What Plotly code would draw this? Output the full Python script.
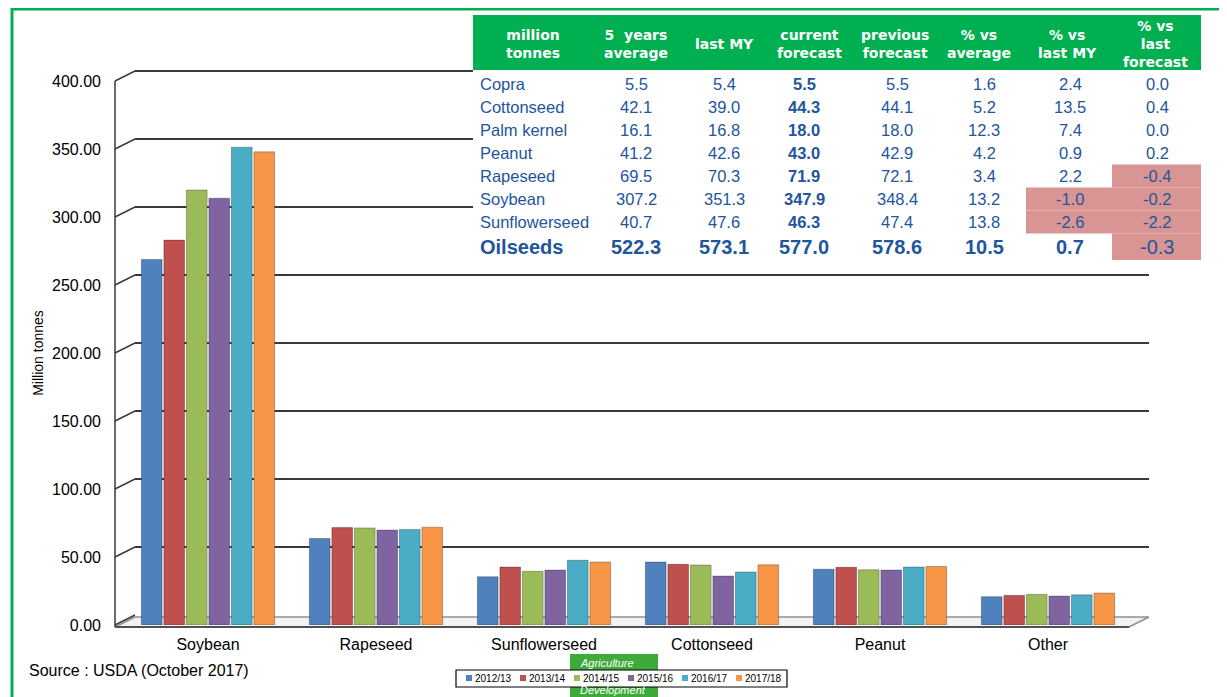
import plotly.graph_objects as go

# ---------------- data ----------------
categories = ["Soybean", "Rapeseed", "Sunflowerseed", "Cottonseed", "Peanut", "Other"]
series_names = ["2012/13", "2013/14", "2014/15", "2015/16", "2016/17", "2017/18"]
series_colors = ["#4F81BD", "#C0504D", "#9BBB59", "#8064A2", "#4BACC6", "#F79646"]
v_2012 = [268.8, 63.6, 35.5, 46.3, 41.0, 20.8]
v_2013 = [283.0, 71.6, 42.6, 44.6, 42.4, 21.8]
v_2014 = [319.8, 71.4, 39.5, 44.1, 40.6, 22.5]
v_2015 = [313.8, 69.8, 40.4, 36.0, 40.4, 21.3]
v_2016 = [351.3, 70.3, 47.6, 39.0, 42.6, 22.2]
v_2017 = [347.9, 71.9, 46.3, 44.3, 43.0, 23.5]
series_values = [v_2012, v_2013, v_2014, v_2015, v_2016, v_2017]
y_ticks = [0, 50, 100, 150, 200, 250, 300, 350, 400]

tbl_headers = ["million<br>tonnes", "5  years<br>average", "last MY", "current<br>forecast",
               "previous<br>forecast", "% vs<br>average", "% vs<br>last MY", "% vs<br>last<br>forecast"]
tbl_rows = ["Copra", "Cottonseed", "Palm kernel", "Peanut", "Rapeseed", "Soybean", "Sunflowerseed", "Oilseeds"]
avg5 = [5.5, 42.1, 16.1, 41.2, 69.5, 307.2, 40.7, 522.3]
last_my = [5.4, 39.0, 16.8, 42.6, 70.3, 351.3, 47.6, 573.1]
cur_fc = [5.5, 44.3, 18.0, 43.0, 71.9, 347.9, 46.3, 577.0]
prev_fc = [5.5, 44.1, 18.0, 42.9, 72.1, 348.4, 47.4, 578.6]
pct_avg = [1.6, 5.2, 12.3, 4.2, 3.4, 13.2, 13.8, 10.5]
pct_my = [2.4, 13.5, 7.4, 0.9, 2.2, -1.0, -2.6, 0.7]
pct_fc = [0.0, 0.4, 0.0, 0.2, -0.4, -0.2, -2.2, -0.3]

# ---------------- layout geometry ----------------
# coordinates below are page pixels; the page body has an 8px margin
OFF = 8
W, H = 1227 - OFF, 697 - OFF
L, T, PW, PH = 124, 81, 1008, 544      # plot area in page pixels
YMAX = 400.0


def px(x):
    return (x - L) / PW


def py(y):
    return (T + PH - y) / PH


def ypix(v):
    return T + PH - v / YMAX * PH


FONT = "Liberation Sans, Arial, sans-serif"
BLUE = "#22559c"

fig = go.Figure()
for name, col, vals in zip(series_names, series_colors, series_values):
    fig.add_trace(go.Bar(
        x=categories, y=vals, name=name, showlegend=False,
        marker=dict(color=col, line=dict(color="rgba(0,0,0,0.35)", width=0.8)),
    ))

shapes = []
annos = []


def line(x0, y0, x1, y1, color="#404040", width=2):
    shapes.append(dict(type="line", xref="paper", yref="paper", x0=px(x0), y0=py(y0),
                       x1=px(x1), y1=py(y1), line=dict(color=color, width=width), layer="below"))


def rect(x0, y0, x1, y1, fill, lc=None, lw=0):
    shapes.append(dict(type="rect", xref="paper", yref="paper", x0=px(x0), y0=py(y0),
                       x1=px(x1), y1=py(y1), fillcolor=fill,
                       line=dict(color=lc or fill, width=lw), layer="below"))


def text(x, y, s, size=16, color="#000", bold=False, xanchor="center", family=FONT, italic=False):
    if bold:
        s = "<b>" + s + "</b>"
    if italic:
        s = "<i>" + s + "</i>"
    annos.append(dict(x=px(x), y=py(y), xref="paper", yref="paper", text=s, showarrow=False,
                      xanchor=xanchor, yanchor="middle", font=dict(size=size, color=color, family=family)))


# 3D-style floor
DX, DY = 20, 10
x_front0, x_front1 = 115, 1129
shapes.append(dict(type="path", xref="paper", yref="paper",
                   path=f"M {px(x_front0)} {py(627)} L {px(x_front1)} {py(627)} L {px(x_front1+DX)} {py(627-DY)} L {px(x_front0+DX)} {py(627-DY)} Z",
                   fillcolor="#f2f2f2", line=dict(color="#909090", width=1.5), layer="below"))
line(x_front0, 627, x_front1, 627, "#505050", 2)

# back wall gridlines + tick diagonals + front axis
for v in y_ticks:
    yy = ypix(v)
    if v > 0:
        line(x_front0 + DX, yy - DY, x_front1 + DX, yy - DY, "#3a3a3a", 2)
    line(x_front0, yy, x_front0 + DX, yy - DY, "#3a3a3a", 1.5)
line(x_front0, ypix(YMAX), x_front0, 627, "#3a3a3a", 1.5)

# table background + header
rect(473, 12, 1203, 262, "white")
rect(473, 15, 1201, 70, "#00B050")
hdr_x = [533, 636, 724, 809, 895, 979, 1067, 1155]
for hx, h in zip(hdr_x, tbl_headers):
    text(hx, 43.5, h, size=14, color="white", bold=True, family="DejaVu Sans, Verdana, sans-serif")

# negative highlight cells
row_y = [84 + 23 * i for i in range(7)] + [247]
row_h = [(y - 11.5, y + 11.5) for y in row_y[:7]] + [(233.5, 260)]
for i in range(len(tbl_rows)):
    if pct_my[i] < 0:
        rect(1026, row_h[i][0], 1112, row_h[i][1], "#D99594")
    if pct_fc[i] < 0:
        rect(1112, row_h[i][0], 1201, row_h[i][1], "#D99594")

col_x = [636, 724, 804, 897, 984, 1070, 1157]
cols = [avg5, last_my, cur_fc, prev_fc, pct_avg, pct_my, pct_fc]
for i, rname in enumerate(tbl_rows):
    total = (i == len(tbl_rows) - 1)
    size = 20 if total else 16.5
    text(478, row_y[i], rname, size=size, color=BLUE, bold=total, xanchor="left")
    for j, (cx, col) in enumerate(zip(col_x, cols)):
        bold = (j == 2) or (total and j != 6)
        text(cx, row_y[i], f"{col[i]:.1f}", size=size, color=BLUE, bold=bold)

# source
text(27, 670, "Source : USDA (October 2017)", size=16, xanchor="left")

# logo behind legend
rect(570, 654, 658, 705, "#3DAA3A")
text(578, 663, "Agriculture", size=11, color="white", italic=True, xanchor="left")
text(578, 690, "Development", size=11, color="white", italic=True, xanchor="left")

# manual legend
rect(456, 670, 787, 687, "white", "#000000", 1.2)
for k, (name, col) in enumerate(zip(series_names, series_colors)):
    sx = 466 + 54 * k
    rect(sx, 675, sx + 6, 681, col)
    text(sx + 6.5, 678.5, name, size=10, xanchor="left")

# outer green frame
shapes.append(dict(type="rect", xref="paper", yref="paper", x0=px(12), y0=py(9), x1=px(1225.5), y1=py(710),
                   line=dict(color="#00B050", width=3), fillcolor="rgba(0,0,0,0)", layer="above"))

fig.update_layout(
    width=W, height=H,
    margin=dict(l=L - OFF, r=W - (L - OFF) - PW, t=T - OFF, b=H - (T - OFF) - PH, pad=0),
    paper_bgcolor="white", plot_bgcolor="rgba(0,0,0,0)",
    barmode="group", bargap=0.196, bargroupgap=0.08,
    font=dict(family=FONT, color="#000"),
    shapes=shapes, annotations=annos,
    xaxis=dict(range=[-0.5, 5.5], showgrid=False, zeroline=False, showline=False, ticks="",
               tickfont=dict(size=16, family=FONT, color="#000"), ticklabelstandoff=8),
    yaxis=dict(range=[0, YMAX], showgrid=False, zeroline=False, showline=False, ticks="",
               tickvals=y_ticks, ticktext=[f"{v:.2f}" for v in y_ticks],
               tickfont=dict(size=16, family=FONT, color="#000"), ticklabelstandoff=22,
               title=dict(text="Million tonnes", font=dict(size=14, family=FONT, color="#000"), standoff=5)),
)

fig.write_html("out.html")
